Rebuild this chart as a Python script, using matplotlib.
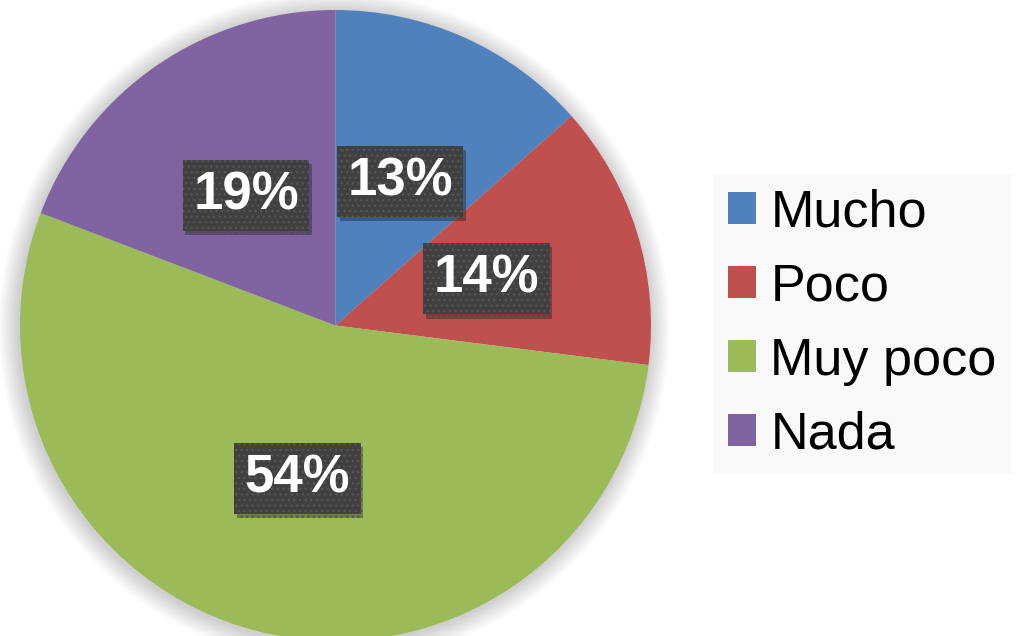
import matplotlib.pyplot as plt
import matplotlib.patheffects as pe
from matplotlib.patches import Circle

labels = ["Mucho", "Poco", "Muy poco", "Nada"]
values = [13.45, 13.55, 53.8, 19.2]
colors = ["#4f81bd", "#c0504d", "#9bbb59", "#8064a2"]

plt.rcParams['font.family'] = ['Liberation Sans', 'DejaVu Sans']
plt.rcParams['hatch.linewidth'] = 1.0

fig = plt.figure(figsize=(10.18, 6.36), dpi=100)
W, H = 1018, 636
cx, cy, r = 335.5, 325.5, 315.5
ax = fig.add_axes([(cx - r) / W, (H - cy - r) / H, 2 * r / W, 2 * r / H])

wedges, texts, autotexts = ax.pie(values, colors=colors, startangle=90, counterclock=False,
                                  radius=1, autopct='%1.0f%%', pctdistance=0.5,
                                  wedgeprops=dict(linewidth=0))
ax.set_xlim(-1, 1)
ax.set_ylim(-1, 1)
ax.set_aspect('equal')
ax.axis('off')
for w in wedges:
    w.set_clip_on(False)

# soft blurred shadow around the pie
n = 16
for k in range(n):
    ax.add_patch(Circle((-0.004, -0.006), 1.0 + 0.004 * (n - k), color='black',
                        alpha=0.012, lw=0, zorder=0, clip_on=False))

for t in autotexts:
    t.set_color('white')
    t.set_fontsize(38)
    t.set_fontweight('bold')
    t.set_bbox(dict(boxstyle='square,pad=0.2', facecolor='#404040', edgecolor='#555555',
                    linewidth=0, hatch='...'))
    t.get_bbox_patch().set_path_effects([pe.withSimplePatchShadow(offset=(2, -3),
                                                                   shadow_rgbFace='black', alpha=0.3)])

leg = fig.legend(wedges, labels, loc='center left', bbox_to_anchor=(713 / W, 1 - 324 / H),
                 fontsize=37.5, frameon=True, fancybox=False, facecolor='#f9f9f9',
                 edgecolor='none', framealpha=1, handlelength=0.55, handleheight=0.55,
                 handletextpad=0.27, labelspacing=0.48, borderpad=0.28, borderaxespad=0)

fig.savefig('out.png', dpi=100)
